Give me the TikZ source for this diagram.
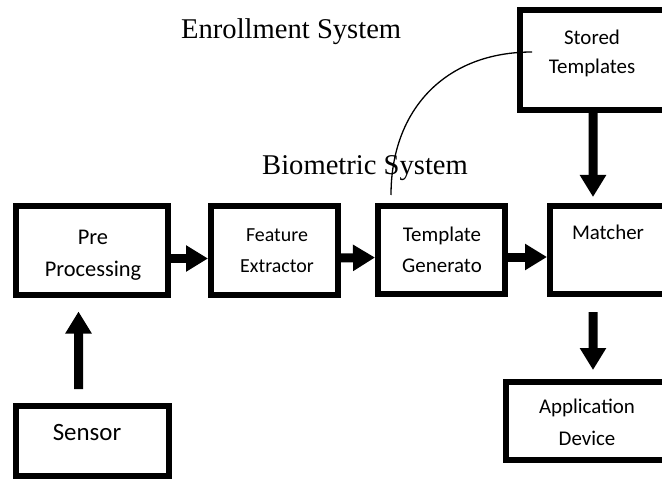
\documentclass[tikz,border=0pt]{standalone}
\usepackage{fontspec}
\setmainfont{Liberation Serif}
\newfontfamily\calfont{Carlito}
\usetikzlibrary{arrows.meta}

\tikzset{
  stagebox/.style={draw=black, line width=6.5bp, fill=none, inner sep=0pt, outer sep=0pt},
  flow/.style={line width=9bp, -{Triangle[width=25bp,length=22bp]}},
  lbl/.style={inner sep=0pt, anchor=base, font=\calfont\fontsize{21}{25}\selectfont},
  title/.style={inner sep=0pt, anchor=base west, font=\fontsize{28.7}{34}\selectfont},
}

\begin{document}
\begin{tikzpicture}[x=1bp, y=-1bp]
  \useasboundingbox (0,0) rectangle (662,479);
  \clip (0,0) rectangle (662,479);

  % stage boxes (positions are stroke centres)
  \node[stagebox, minimum width=152bp, minimum height=89bp] (pre)     at (92,250.5) {};
  \node[stagebox, minimum width=127bp, minimum height=89bp] (feat)    at (274.5,250.5) {};
  \node[stagebox, minimum width=127bp, minimum height=88bp] (tgen)    at (441.5,250) {};
  \node[stagebox, minimum width=130bp, minimum height=88bp] (matcher) at (615,250) {};
  \node[stagebox, minimum width=160bp, minimum height=100bp] (stored) at (600,60) {};
  \node[stagebox, minimum width=153bp, minimum height=70bp] (sensor)  at (92.5,441) {};
  \node[stagebox, minimum width=174bp, minimum height=78bp] (app)     at (593,421) {};

  % box captions
  \node[lbl, font=\calfont\fontsize{22.5}{27}\selectfont] (pre1) at (93,245) {Pre};
  \node[lbl, font=\calfont\fontsize{22.5}{27}\selectfont] (pre2) at (93,276) {Processing};
  \node[lbl, font=\calfont\fontsize{20}{24}\selectfont] (feat1) at (277,242) {Feature};
  \node[lbl, font=\calfont\fontsize{20}{24}\selectfont] (feat2) at (277,272) {Extractor};
  \node[lbl] (tgen1) at (442,242) {Template};
  \node[lbl] (tgen2) at (442,272) {Generato};
  \node[lbl] (match1) at (608,240) {Matcher};
  \node[lbl] (stored1) at (592,45) {Stored};
  \node[lbl] (stored2) at (592,74) {Templates};
  \node[lbl, font=\calfont\fontsize{25}{30}\selectfont] (sensor1) at (87,440) {Sensor};
  \node[lbl] (app1) at (587,413) {Application};
  \node[lbl] (app2) at (587,445) {Device};

  % headings
  \node[title] (enroll) at (181,39) {Enrollment System};
  \node[title] (biom)   at (262,175) {Biometric System};

  % main flow
  \draw[flow, shorten <=3bp, shorten >=3bp]
    ([yshift=-8bp]pre.east) -- ([yshift=-8bp]feat.west);
  \draw[flow, shorten <=3bp, shorten >=3bp]
    ([yshift=-7.5bp]feat.east) -- ([yshift=-7.5bp]tgen.west);
  \draw[flow, shorten <=3bp, shorten >=3bp]
    ([yshift=-7bp]tgen.east) -- ([yshift=-7bp]matcher.west);

  % vertical flow
  \draw[flow, shorten <=17bp, shorten >=16.5bp]
    ([xshift=-14bp]sensor.north) -- ([xshift=-13.5bp]pre.south);
  \draw[flow, shorten <=3bp, shorten >=9bp]
    ([xshift=-7bp]stored.south) -- ([xshift=-22bp]matcher.north);
  \draw[flow, shorten <=18bp, shorten >=12bp]
    ([xshift=-22bp]matcher.south) -- (app.north);

  % enrollment link from the template generator to the store
  \coordinate (linkend) at (532,52);
  \draw[line width=1.3bp]
    ([xshift=-50.5bp, yshift=11bp]tgen.north) .. controls (391,110) and (445,52) .. (linkend);
\end{tikzpicture}
\end{document}
